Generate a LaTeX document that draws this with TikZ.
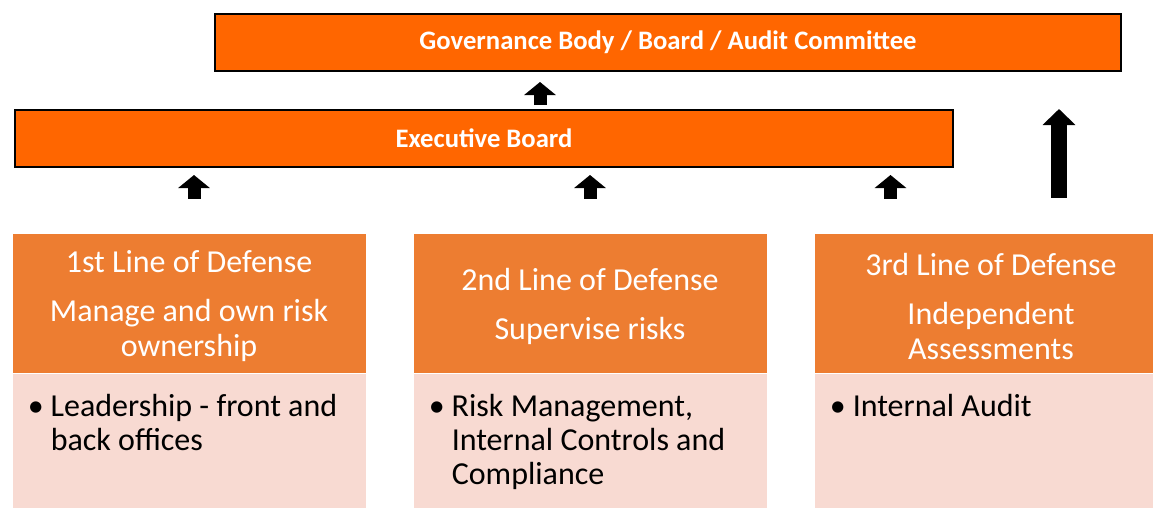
\documentclass[tikz,border=0pt]{standalone}
\usepackage{fontspec}
\setmainfont{Carlito}
\usetikzlibrary{arrows.meta,calc}

\definecolor{govOrange}{HTML}{FF6600}
\definecolor{lodOrange}{HTML}{ED7D31}
\definecolor{lodPale}{HTML}{F8DAD2}
% one drawing unit = one screen pixel
\def\pxu{0.75pt}

\tikzset{
  lodA/.style={x=0.75pt, y=-0.75pt, line join=miter},
  bar/.style={
    draw=black, line width=1.5pt, fill=govOrange, text=white,
    font=\fontsize{20}{24}\selectfont\bfseries,
    minimum height=57*\pxu, inner sep=0pt,
  },
  lineHead/.style={
    draw=white, line width=0.75pt, fill=lodOrange, text=white,
    font=\fontsize{24}{26.3}\selectfont, align=center,
    minimum width=354*\pxu, minimum height=140*\pxu, inner sep=0pt,
  },
  lineBody/.style={
    draw=white, line width=0.75pt, fill=lodPale,
    minimum width=354*\pxu, minimum height=187*\pxu, inner sep=0pt,
  },
  bulletText/.style={
    anchor=base west, inner sep=0pt,
    font=\fontsize{24}{25.5}\selectfont, text=black,
  },
  upArrow/.style={line width=9.75pt, -{Triangle[width=23.25pt, length=9.75pt]}},
  bigArrow/.style={line width=12pt, -{Triangle[width=24pt, length=12pt]}},
}
% bullet with the wrapped lines hanging under the first word
\newcommand{\lodItem}[1]{\makebox[17.25pt][l]{\textbullet}%
  \parbox[t]{220pt}{\raggedright #1}}

\begin{document}
\begin{tikzpicture}[lodA]

\useasboundingbox (0,0) rectangle (1153,507);
\clip (0,0) rectangle (1153,507);

% ============================================================
% Top bars
% ============================================================
\node[bar, minimum width=906*\pxu] (gov) at (668,42.5)
  {Governance Body / Board / Audit Committee};
\node[bar, minimum width=938*\pxu] (exec) at (484,138.5)
  {Executive Board};

% ============================================================
% The three lines of defense
% ============================================================
\node[lineHead] (h1) at (189,303)
  {\\[-5pt]1st Line of Defense\\[10.5pt]Manage and own risk\\ownership};
\node[lineBody] (b1) at (189,466.5) {};
\node[bulletText] (t1) at ($(b1.north west)+(16,44)$)
  {\lodItem{Leadership - front and\\back offices}};

\node[lineHead] (h2) at (590,303)
  {\\[-5pt]2nd Line of Defense\\[10.5pt]Supervise risks};
\node[lineBody] (b2) at (590,466.5) {};
\node[bulletText] (t2) at ($(b2.north west)+(16,44)$)
  {\lodItem{Risk Management,\\Internal Controls and\\Compliance}};

\node[lineHead] (h3) at (991,303)
  {\\[-5pt]3rd Line of Defense\\[10.5pt]Independent\\Assessments};
\node[lineBody] (b3) at (991,466.5) {};
\node[bulletText] (t3) at ($(b3.north west)+(16,44)$)
  {\lodItem{Internal Audit}};

% ============================================================
% Reporting arrows
% ============================================================
\draw[upArrow, shorten <=3pt, shorten >=7.5pt]
  ($(exec.north)+(56,0)$) coordinate (e0) -- (e0 |- gov.south);

\foreach \h/\dx in {h1/5, h2/0, h3/-100.5} {
  \draw[upArrow, shorten <=25.5pt, shorten >=5.25pt]
    ($(\h.north)+(\dx,0)$) coordinate (a-\h) -- (a-\h |- exec.south);
}

% 3rd line reports straight to the governance body
\draw[bigArrow, shorten <=26.25pt, shorten >=27.75pt]
  ($(h3.north)+(68,0)$) coordinate (g3) -- (g3 |- gov.south);

\end{tikzpicture}
\end{document}
